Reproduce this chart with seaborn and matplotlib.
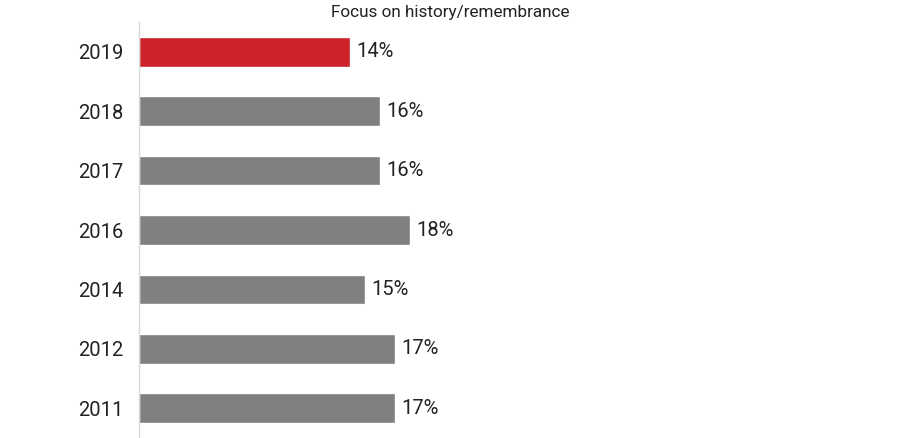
import pandas as pd
import matplotlib.pyplot as plt
import seaborn as sns

# data
years = ["2019", "2018", "2017", "2016", "2014", "2012", "2011"]
values = [14, 16, 16, 18, 15, 17, 17]
bar_colors = ["#CC2229", "#808080", "#808080", "#808080", "#808080", "#808080", "#808080"]

df = pd.DataFrame({"year": years, "value": values})

sns.set_style("white")
plt.rcParams["font.family"] = ["Roboto", "DejaVu Sans"]

fig = plt.figure(figsize=(9, 4.38), dpi=100)
ax = fig.add_axes([139 / 900, 0, 761 / 900, 416 / 438])

sns.barplot(data=df, x="value", y="year", hue="year", palette=bar_colors,
            orient="h", width=0.5, saturation=1, legend=False, ax=ax)

ax.set_xlim(0, 761 / 15.07)
ax.set_ylim(6.5, -0.5)

for i, v in enumerate(values):
    ax.text(v + 0.4, i, f"{v}%", va="center", ha="left", fontsize=14.5, color="#222222")

ax.set_xlabel("")
ax.set_ylabel("")
ax.set_xticks([])
ax.tick_params(axis="y", length=0, pad=11.5, labelsize=14.5, labelcolor="#222222")
for side in ["top", "right", "bottom"]:
    ax.spines[side].set_visible(False)
ax.spines["left"].set_color("#d9d9d9")
ax.spines["left"].set_linewidth(1)

fig.text(0.5, 1 - 12 / 438, "Focus on history/remembrance", ha="center", va="center",
         fontsize=12.3, color="#222222")

fig.savefig("out.png", dpi=100)
